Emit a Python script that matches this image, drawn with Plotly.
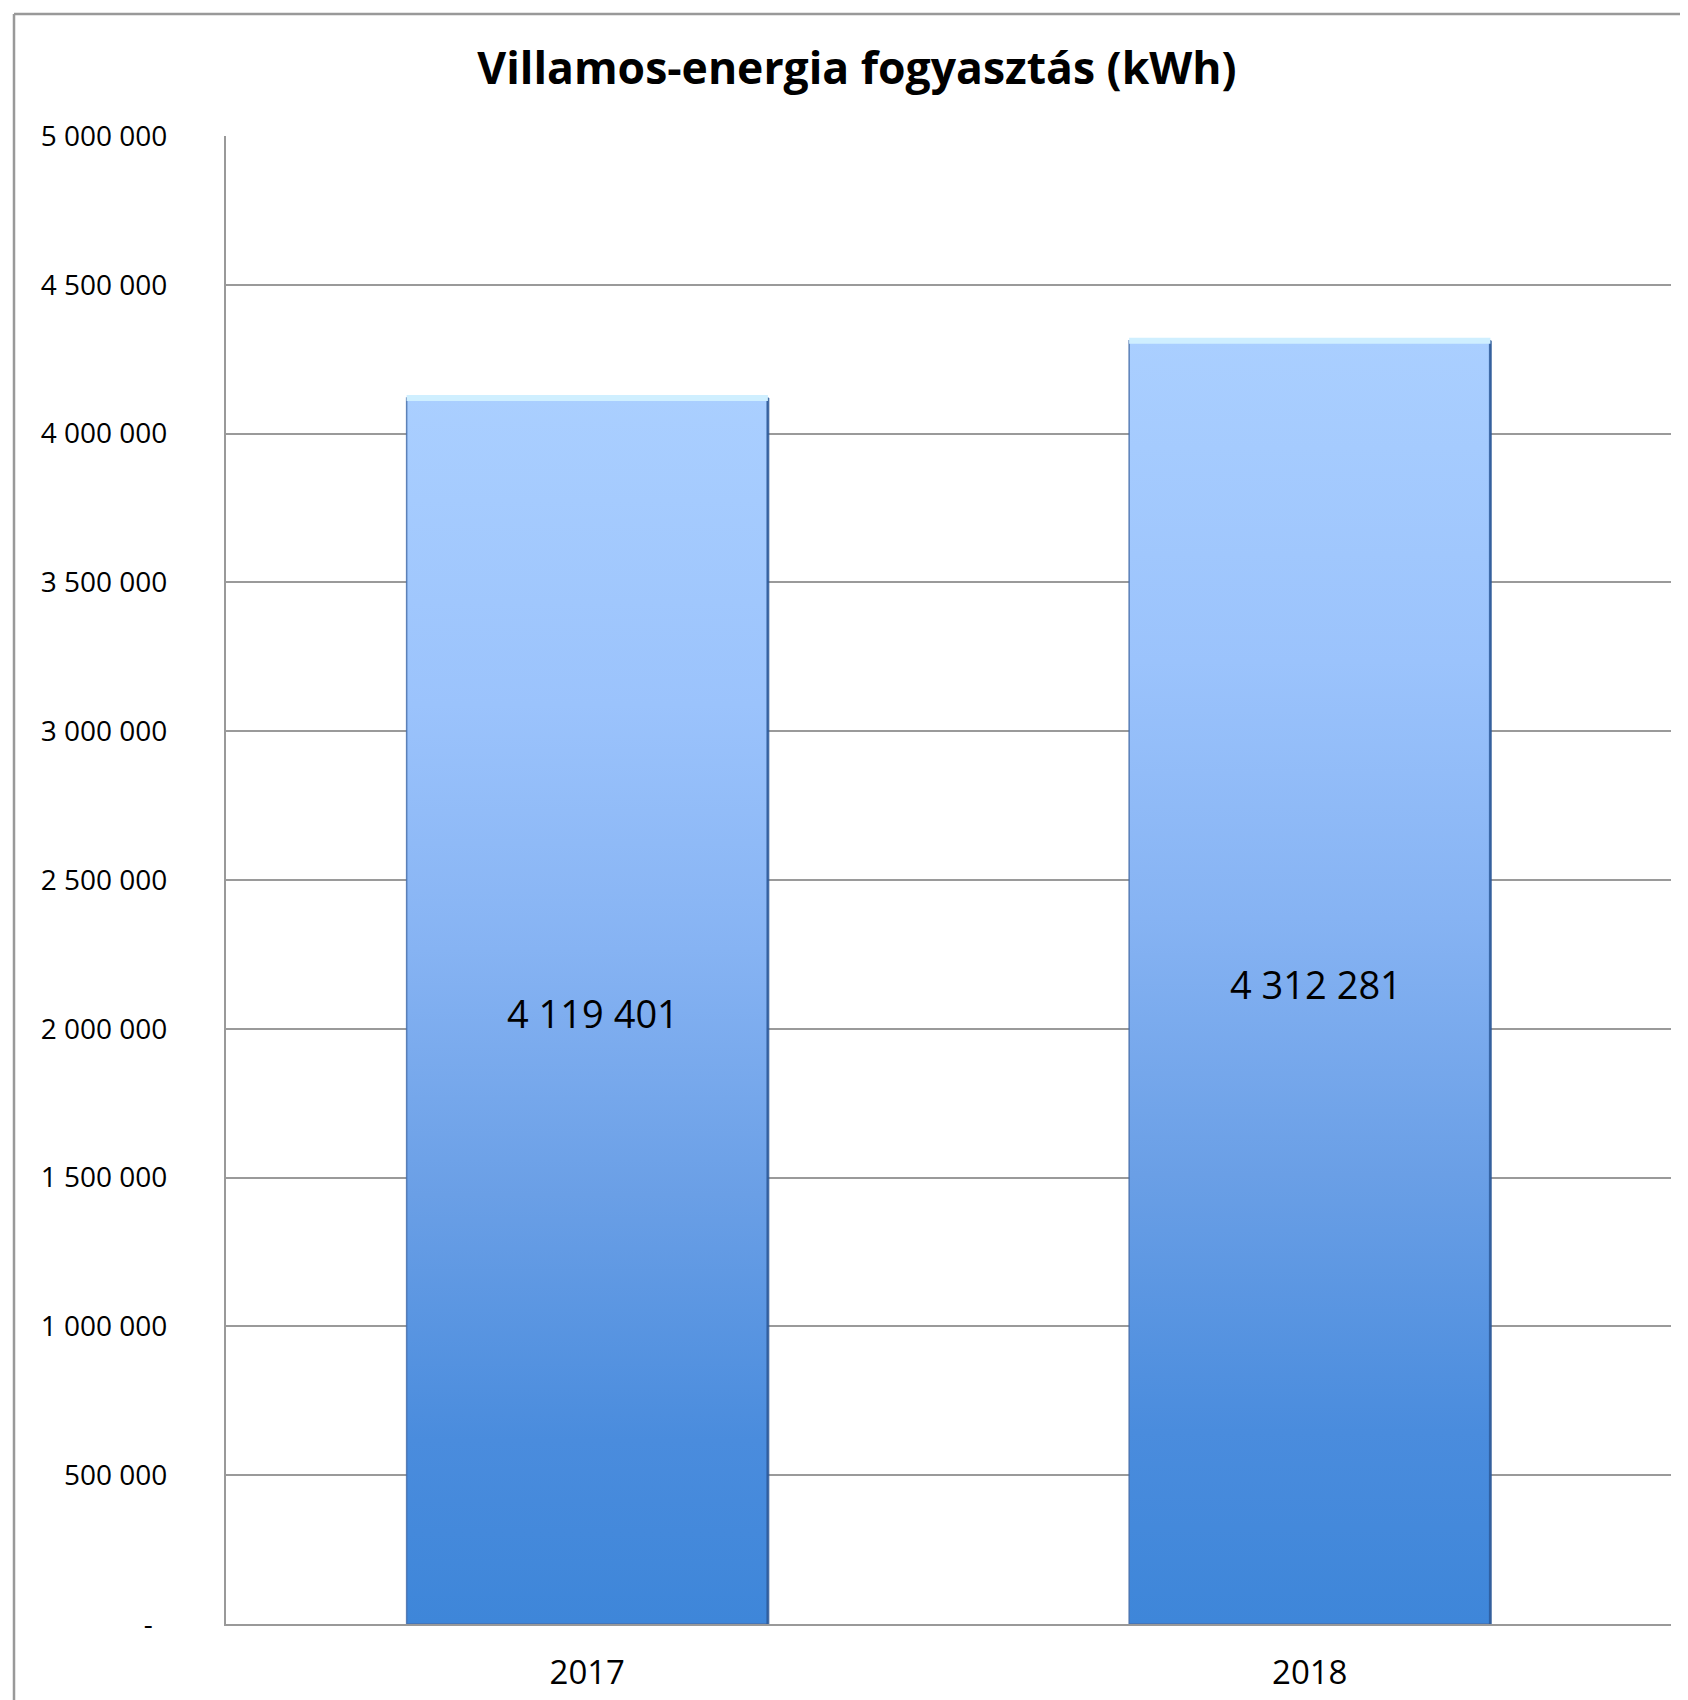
import plotly.graph_objects as go

# ---- data ----
years = ["2017", "2018"]
consumption = [4119401, 4312281]
y_ticks = [0, 500000, 1000000, 1500000, 2000000, 2500000, 3000000, 3500000, 4000000, 4500000, 5000000]
title_text = "Villamos-energia fogyasztás (kWh)"


def fmt(v):
    return f"{v:,}".replace(",", " ")


y_ticktext = [("-" + "\u00a0" * 2) if v == 0 else fmt(v) for v in y_ticks]

# page body has an 8px margin, so the figure is shifted by 8px
OFF = 8
W, H = 1688 - OFF, 1700 - OFF
ML, MT = 226 - OFF, 136 - OFF
MR = W - (1671 - OFF)
MB = H - (1624 - OFF)
FONT = "Open Sans"

grad = [
    [0.0, "#3E86D9"],
    [0.15, "#4A8CDD"],
    [0.35, "#6A9FE6"],
    [0.55, "#86B3F3"],
    [0.75, "#9BC3FC"],
    [1.0, "#AACFFF"],
]

bar_half = 0.25
fig = go.Figure()
for i, (yr, v) in enumerate(zip(years, consumption)):
    xs = [i - bar_half, i + bar_half, i + bar_half, i - bar_half, i - bar_half]
    ys = [0, 0, v, v, 0]
    fig.add_trace(go.Scatter(
        x=xs, y=ys, mode="lines", fill="toself",
        fillgradient=dict(type="vertical", colorscale=grad, start=0, stop=v),
        line=dict(color="rgba(70,110,170,0.85)", width=1.5),
        hoverinfo="skip", showlegend=False,
    ))
    # darker right edge (bevel shadow)
    fig.add_trace(go.Scatter(
        x=[i + bar_half, i + bar_half], y=[0, v], mode="lines",
        line=dict(color="rgba(40,85,150,0.75)", width=3),
        hoverinfo="skip", showlegend=False,
    ))
    # top highlight (bevel)
    fig.add_trace(go.Scatter(
        x=[i - bar_half, i + bar_half], y=[v, v], mode="lines",
        line=dict(color="#CFEFFF", width=6),
        hoverinfo="skip", showlegend=False,
    ))

annotations = [
    dict(x=i, y=v / 2, xref="x", yref="y", text=fmt(v), showarrow=False,
         xshift=6, yshift=-2, font=dict(family=FONT, size=38, color="#000000"))
    for i, v in enumerate(consumption)
]

plot_w = W - ML - MR
plot_h = H - MT - MB
fx = lambda px: (px - ML) / plot_w
fy = lambda py: 1 - (py - MT) / plot_h

fig.update_layout(
    width=W, height=H,
    margin=dict(l=ML, r=MR, t=MT, b=MB, pad=0, autoexpand=False),
    paper_bgcolor="white", plot_bgcolor="white",
    title=dict(text="<b>" + title_text + "</b>", x=(857 - OFF) / W, xref="container", xanchor="center",
               y=1 - (68 - OFF) / H, yanchor="middle", automargin=False,
               font=dict(family=FONT, size=44.5, color="#000000")),
    xaxis=dict(range=[-0.5, len(years) - 0.5], tickvals=list(range(len(years))), ticktext=years,
               showgrid=False, zeroline=False, showline=True, linecolor="#999999", linewidth=2,
               ticks="", ticklabelstandoff=18, automargin=False,
               tickfont=dict(family=FONT, size=33, color="#000000")),
    yaxis=dict(range=[0, 5000000], tickvals=y_ticks, ticktext=y_ticktext,
               showgrid=True, gridcolor="#9a9a9a", gridwidth=1.5, zeroline=False,
               showline=True, linecolor="#999999", linewidth=2, ticks="",
               ticklabelstandoff=51, automargin=False,
               tickfont=dict(family=FONT, size=28, color="#000000")),
    annotations=annotations,
    shapes=[
        dict(type="line", xref="paper", yref="paper", x0=fx(14 - OFF), x1=fx(14 - OFF),
             y0=fy(H + 5), y1=fy(14 - OFF),
             line=dict(color="#999999", width=2.5)),
        dict(type="line", xref="paper", yref="paper", x0=fx(14 - OFF), x1=fx(W + 5),
             y0=fy(14 - OFF), y1=fy(14 - OFF),
             line=dict(color="#999999", width=2.5)),
    ],
)

fig.write_html("out.html")
